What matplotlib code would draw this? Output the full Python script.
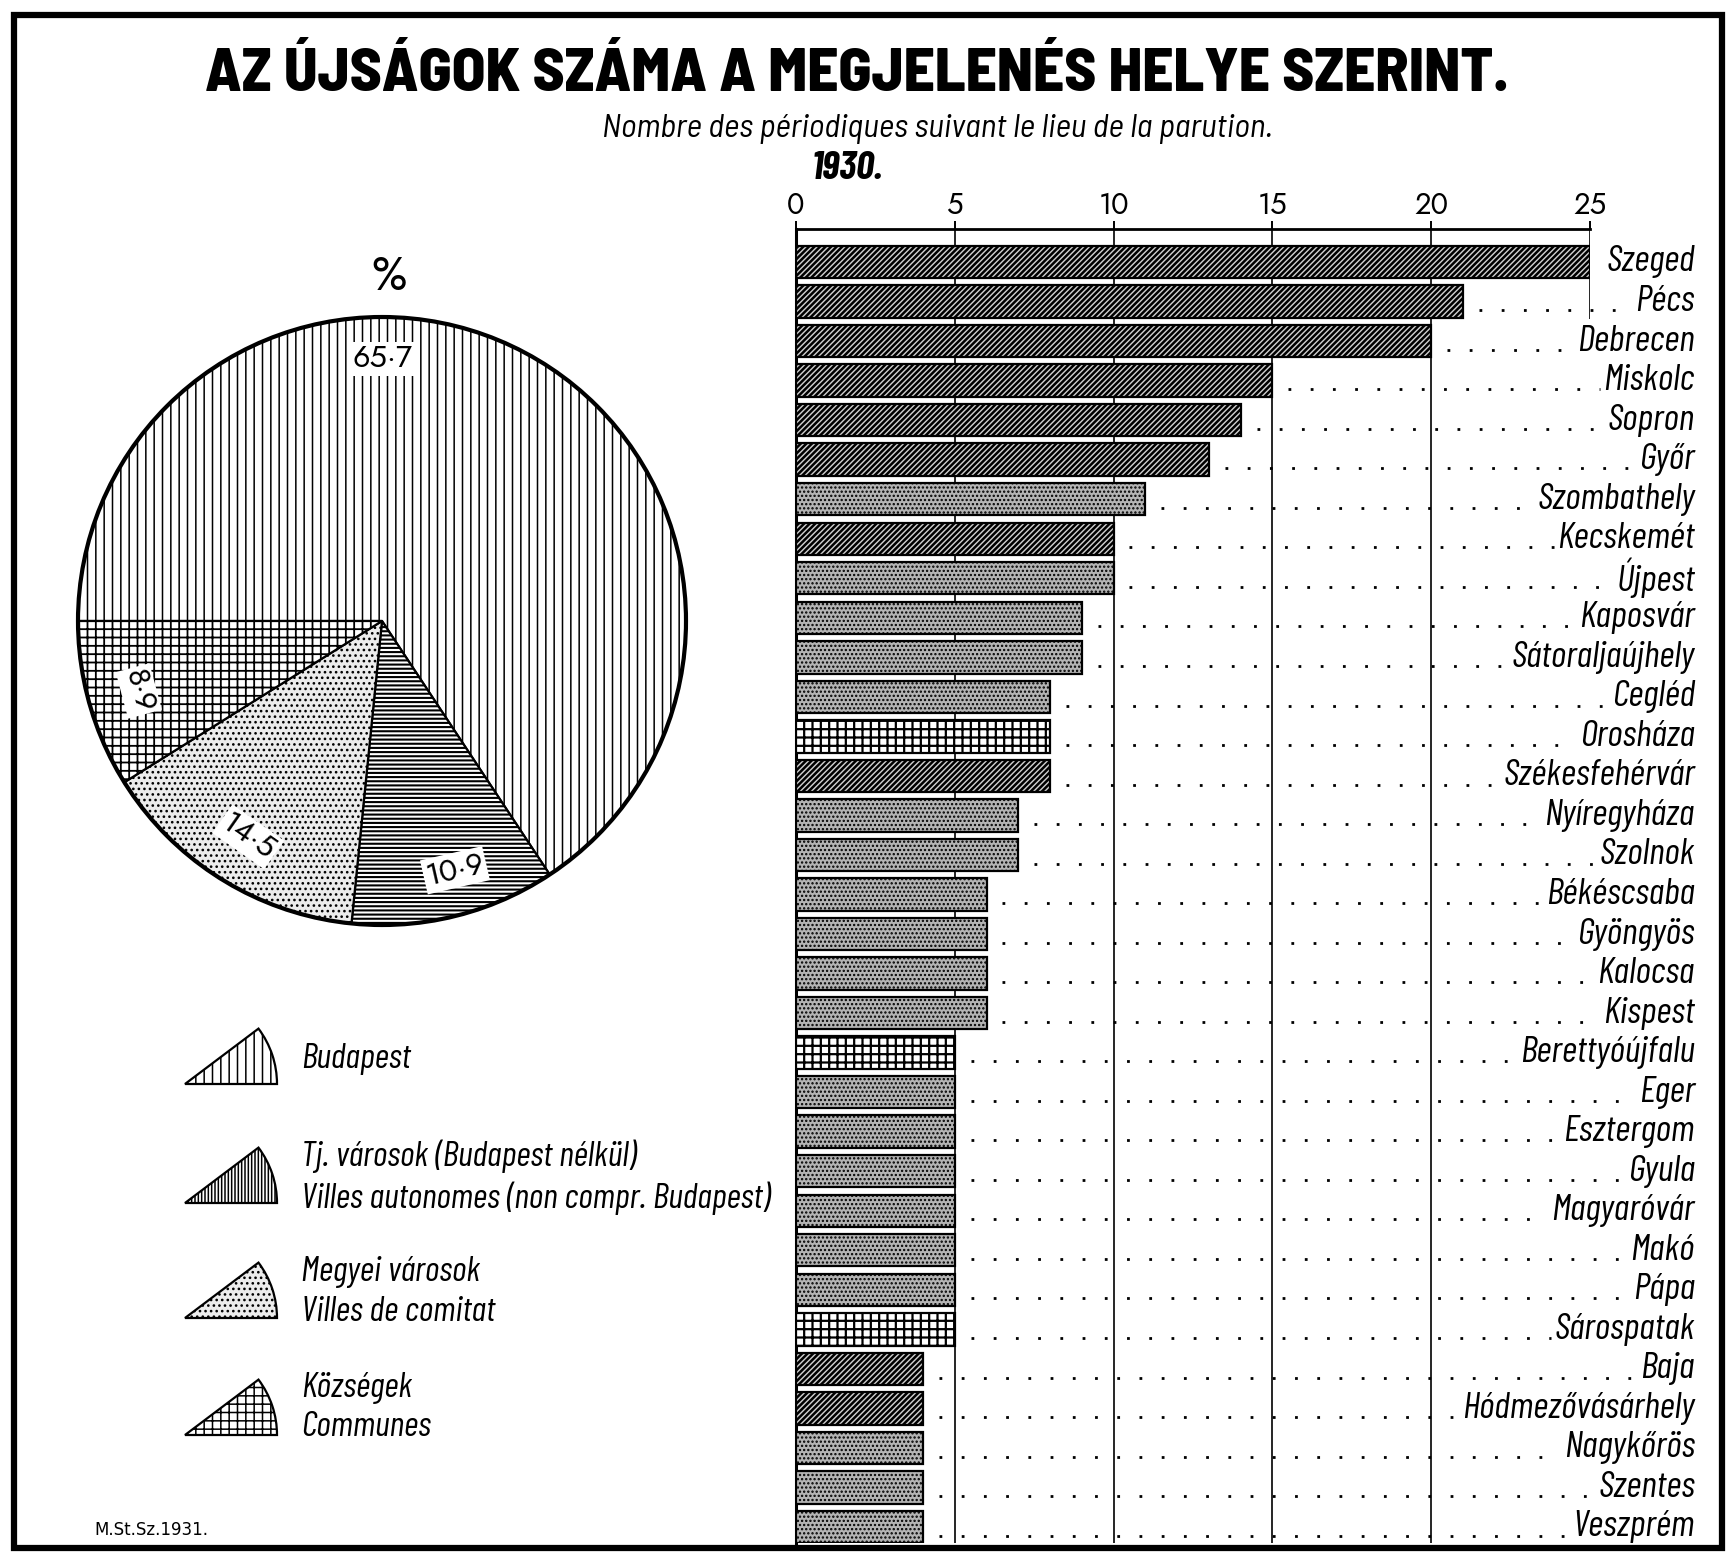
import matplotlib
matplotlib.use('Agg')
import matplotlib.pyplot as plt
from matplotlib import font_manager
from matplotlib.patches import Wedge, Rectangle, Circle

available = {f.name for f in font_manager.fontManager.ttflist}
def pick(*names):
    for n in names:
        if n in available:
            return n
    return 'DejaVu Sans'

COND = pick('Barlow Condensed', 'Roboto Condensed', 'Fira Sans Condensed', 'PT Sans Narrow',
            'Archivo Narrow', 'Liberation Sans Narrow', 'Roboto')
SEMI = pick('Barlow Semi Condensed', 'Roboto Condensed', COND)
ROUND = pick('Jost', 'Futura', 'Barlow', 'Roboto')
plt.rcParams['font.family'] = [COND, 'DejaVu Sans']
plt.rcParams['hatch.linewidth'] = 1.1

# ---------------- data ----------------
pie_names = ['Budapest', 'Tj. városok', 'Megyei városok', 'Községek']
pie_values = [65.7, 10.9, 14.5, 8.9]
pie_texts = ['65·7', '10·9', '14·5', '8·9']

cities = ['Szeged', 'Pécs', 'Debrecen', 'Miskolc', 'Sopron', 'Győr', 'Szombathely',
          'Kecskemét', 'Újpest', 'Kaposvár', 'Sátoraljaújhely', 'Cegléd', 'Orosháza',
          'Székesfehérvár', 'Nyíregyháza', 'Szolnok', 'Békéscsaba', 'Gyöngyös', 'Kalocsa',
          'Kispest', 'Berettyóújfalu', 'Eger', 'Esztergom', 'Gyula', 'Magyaróvár', 'Makó',
          'Pápa', 'Sárospatak', 'Baja', 'Hódmezővásárhely', 'Nagykőrös', 'Szentes', 'Veszprém']
counts = [25, 21, 20, 15, 14, 13, 11, 10, 10, 9, 9, 8, 8, 8, 7, 7, 6, 6, 6, 6,
          5, 5, 5, 5, 5, 5, 5, 5, 4, 4, 4, 4, 4]
# T = törvényhatósági város, M = megyei város, K = község
kinds = ['T', 'T', 'T', 'T', 'T', 'T', 'M', 'T', 'M', 'M', 'M', 'M', 'K', 'T', 'M', 'M',
         'M', 'M', 'M', 'M', 'K', 'M', 'M', 'M', 'M', 'M', 'M', 'K', 'T', 'T', 'M', 'M', 'M']
xticks = [0, 5, 10, 15, 20, 25]

legend_lines = [['Budapest'],
                ['Tj. városok (Budapest nélkül)', 'Villes autonomes (non compr. Budapest)'],
                ['Megyei városok', 'Villes de comitat'],
                ['Községek', 'Communes']]

# ---------------- styles ----------------
pie_style = [dict(facecolor='white', hatch='||', hlw=1.1),
             dict(facecolor='white', hatch='----', hlw=1.5),
             dict(facecolor='#ececec', hatch='...', hlw=1.1),
             dict(facecolor='white', hatch='++', hlw=1.3)]
legend_hatch = ['||', '|||||', '...', '++']
bar_style = {'T': dict(facecolor='#d0d0d0', hatch='//////', hlw=1.8),
             'M': dict(facecolor='#b4b4b4', hatch='....', hlw=1.1),
             'K': dict(facecolor='white', hatch='++', hlw=1.6)}

W, H = 1734, 1559
fig = plt.figure(figsize=(W / 100, H / 100), dpi=100)
bg = fig.add_axes([0, 0, 1, 1])
bg.set_xlim(0, W)
bg.set_ylim(0, H)
bg.axis('off')

def Y(y):
    return H - y

# frame
bg.add_patch(Rectangle((14, Y(1548)), 1708, 1533, fill=False, lw=4.5, ec='black'))

# titles
bg.text(857, Y(75), 'AZ ÚJSÁGOK SZÁMA A MEGJELENÉS HELYE SZERINT.', ha='center', va='center',
        fontsize=44, fontweight='heavy', family=[SEMI, 'DejaVu Sans'])
bg.text(937, Y(129), 'Nombre des périodiques suivant le lieu de la parution.', ha='center',
        va='center', fontsize=24, style='italic', family=[SEMI, 'DejaVu Sans'])
bg.text(847, Y(168), '1930.', ha='center', va='center', fontsize=29, style='italic',
        fontweight='bold')
bg.text(94, Y(1530), 'M.St.Sz.1931.', ha='left', va='center', fontsize=12,
        family=['DejaVu Sans'])
bg.text(389, Y(276), '%', ha='center', va='center', fontsize=34, family=[ROUND, 'DejaVu Sans'])

# ---------------- pie ----------------
cx, cy, r = 382, 621, 304
m = 1.06
pax = fig.add_axes([(cx - r * m) / W, (H - cy - r * m) / H, 2 * r * m / W, 2 * r * m / H])
wedges, _ = pax.pie(pie_values, startangle=180, counterclock=False, radius=1,
                    wedgeprops=dict(edgecolor='black', linewidth=1.6))
for w, st in zip(wedges, pie_style):
    w.set_facecolor(st['facecolor'])
    w.set_hatch(st['hatch'])
    if hasattr(w, 'set_hatch_linewidth'):
        w.set_hatch_linewidth(st['hlw'])
pax.add_patch(Circle((0, 0), 1, fill=False, lw=3, ec='black'))
pax.set_xlim(-m, m)
pax.set_ylim(-m, m)
pax.set_aspect('equal')
pax.axis('off')

lbl_pos = [(0.0, 0.862), (0.24, -0.82), (-0.44, -0.71), (-0.80, -0.23)]
lbl_rot = [0, 13, -35, -75]
for t, (x, y), rot in zip(pie_texts, lbl_pos, lbl_rot):
    pax.text(x, y, t, ha='center', va='center', rotation=rot, fontsize=22,
             family=[ROUND, 'DejaVu Sans'],
             bbox=dict(boxstyle='square,pad=0.08', fc='white', ec='none'))

# ---------------- legend ----------------
leg_icon_y = [1084, 1203, 1318, 1435]
leg_text_y = [[1059], [1156, 1198], [1272, 1312], [1388, 1427]]
for st, hh, iy, lines, tys in zip(pie_style, legend_hatch, leg_icon_y, legend_lines, leg_text_y):
    bg.add_patch(Wedge((185, Y(iy)), 92, 0, 37, facecolor=st['facecolor'], hatch=hh,
                       edgecolor='black', lw=1.6))
    for txt, ty in zip(lines, tys):
        bg.text(301, Y(ty), txt, ha='left', va='center', fontsize=25.5, style='italic')

# ---------------- bars ----------------
x0, x25 = 796, 1590
top, bottom = 229, 1543
row0, pitch = 262, 39.53
ax = fig.add_axes([x0 / W, (H - bottom) / H, (x25 - x0) / W, (bottom - top) / H])
ax.set_xlim(0, 25)
ylo = (top - row0) / pitch
yhi = (bottom - row0) / pitch
ax.set_ylim(yhi, ylo)
ax.patch.set_alpha(0)
ypos = list(range(len(cities)))

for gx in [5, 10, 15, 20]:
    ax.vlines(gx, ylo, yhi, color='black', lw=1.2, zorder=1)
ax.vlines(25, ylo, 1.45, color='black', lw=1.2, zorder=1)

bars = ax.barh(ypos, counts, height=0.82, edgecolor='black', linewidth=1.6, zorder=3)
for b, k in zip(bars, kinds):
    b.set_facecolor(bar_style[k]['facecolor'])
    b.set_hatch(bar_style[k]['hatch'])
    if hasattr(b, 'set_hatch_linewidth'):
        b.set_hatch_linewidth(bar_style[k]['hlw'])

for s in ['right', 'bottom']:
    ax.spines[s].set_visible(False)
ax.spines['top'].set_linewidth(2)
ax.spines['left'].set_linewidth(2.2)
ax.xaxis.tick_top()
ax.set_xticks(xticks)
ax.set_xticklabels([str(v) for v in xticks], family=[ROUND, 'DejaVu Sans'], fontsize=21)
ax.tick_params(axis='x', direction='out', length=6, width=1.4, pad=0)
ax.set_yticks([])

labels = []
for i, c in enumerate(cities):
    labels.append(ax.text(28.3, i, c, ha='right', va='center', fontsize=27, style='italic',
                          clip_on=False))

fig.canvas.draw()
inv = ax.transData.inverted()
for i, (t, v) in enumerate(zip(labels, counts)):
    bb = t.get_window_extent()
    xl = inv.transform((bb.x0, 0))[0]
    start, end = v + 0.5, xl - 0.1
    if end - start > 0.3:
        ax.plot([start, end], [i + 0.22, i + 0.22], color='black', lw=2,
                linestyle=(0, (1, 7)), clip_on=False, zorder=2)

fig.savefig('out.png', dpi=100, facecolor='white')
